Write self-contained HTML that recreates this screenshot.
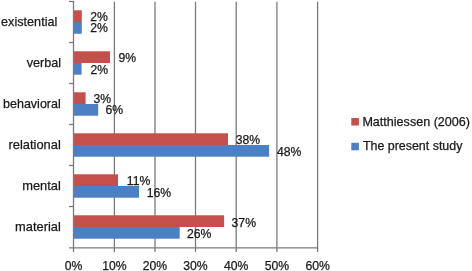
<!DOCTYPE html><html><head><meta charset="utf-8"><style>html,body{margin:0;padding:0;background:#fff;overflow:hidden;}svg{display:block;filter:blur(0.3px);}text{font-family:"Liberation Sans",Arial,sans-serif;fill:#1a1a1a;stroke:#1a1a1a;stroke-width:0.25px;}</style></head><body>
<svg width="472" height="271" viewBox="0 0 472 271">
<rect x="0" y="0" width="472" height="271" fill="#fff"/>
<line x1="114.4" y1="1.7" x2="114.4" y2="252" stroke="#7a7a7a" stroke-width="1.3"/>
<line x1="155.0" y1="1.7" x2="155.0" y2="252" stroke="#7a7a7a" stroke-width="1.3"/>
<line x1="195.5" y1="1.7" x2="195.5" y2="252" stroke="#7a7a7a" stroke-width="1.3"/>
<line x1="236.2" y1="1.7" x2="236.2" y2="252" stroke="#7a7a7a" stroke-width="1.3"/>
<line x1="276.9" y1="1.7" x2="276.9" y2="252" stroke="#7a7a7a" stroke-width="1.3"/>
<line x1="317.6" y1="1.7" x2="317.6" y2="252" stroke="#7a7a7a" stroke-width="1.3"/>
<rect x="74" y="10.29" width="7.80" height="11.71" fill="#C5504B"/>
<rect x="74" y="22.00" width="7.80" height="11.71" fill="#4C80C4"/>
<rect x="74" y="51.29" width="36.00" height="11.71" fill="#C5504B"/>
<rect x="74" y="63.00" width="7.60" height="11.71" fill="#4C80C4"/>
<rect x="74" y="92.29" width="11.60" height="11.71" fill="#C5504B"/>
<rect x="74" y="104.00" width="24.20" height="11.71" fill="#4C80C4"/>
<rect x="74" y="133.29" width="154.00" height="11.71" fill="#C5504B"/>
<rect x="74" y="145.00" width="195.10" height="11.71" fill="#4C80C4"/>
<rect x="74" y="174.29" width="44.00" height="11.71" fill="#C5504B"/>
<rect x="74" y="186.00" width="65.00" height="11.71" fill="#4C80C4"/>
<rect x="74" y="215.29" width="150.10" height="11.71" fill="#C5504B"/>
<rect x="74" y="227.00" width="105.70" height="11.71" fill="#4C80C4"/>
<line x1="73.5" y1="1" x2="73.5" y2="252" stroke="#7a7a7a" stroke-width="1.3"/>
<line x1="69" y1="247.9" x2="318.1" y2="247.9" stroke="#7a7a7a" stroke-width="1.3"/>
<line x1="69" y1="1.50" x2="73.5" y2="1.50" stroke="#7a7a7a" stroke-width="1.3"/>
<line x1="69" y1="42.50" x2="73.5" y2="42.50" stroke="#7a7a7a" stroke-width="1.3"/>
<line x1="69" y1="83.50" x2="73.5" y2="83.50" stroke="#7a7a7a" stroke-width="1.3"/>
<line x1="69" y1="124.50" x2="73.5" y2="124.50" stroke="#7a7a7a" stroke-width="1.3"/>
<line x1="69" y1="165.50" x2="73.5" y2="165.50" stroke="#7a7a7a" stroke-width="1.3"/>
<line x1="69" y1="206.50" x2="73.5" y2="206.50" stroke="#7a7a7a" stroke-width="1.3"/>
<text x="1.10" y="25.90" font-size="12.8" textLength="56.20" lengthAdjust="spacingAndGlyphs">existential</text>
<text x="26.70" y="66.80" font-size="12.8" textLength="34.40" lengthAdjust="spacingAndGlyphs">verbal</text>
<text x="3.00" y="107.80" font-size="12.8" textLength="57.80" lengthAdjust="spacingAndGlyphs">behavioral</text>
<text x="8.50" y="149.30" font-size="12.8" textLength="52.30" lengthAdjust="spacingAndGlyphs">relational</text>
<text x="22.20" y="190.00" font-size="12.8" textLength="38.60" lengthAdjust="spacingAndGlyphs">mental</text>
<text x="15.10" y="231.20" font-size="12.8" textLength="45.70" lengthAdjust="spacingAndGlyphs">material</text>
<text x="90.30" y="21.20" font-size="12.2">2%</text>
<text x="90.30" y="32.00" font-size="12.2">2%</text>
<text x="118.40" y="62.20" font-size="12.2">9%</text>
<text x="90.60" y="73.80" font-size="12.2">2%</text>
<text x="93.40" y="103.10" font-size="12.2">3%</text>
<text x="105.60" y="114.10" font-size="12.2">6%</text>
<text x="235.80" y="144.00" font-size="12.2">38%</text>
<text x="277.00" y="156.20" font-size="12.2">48%</text>
<text x="126.80" y="184.90" font-size="12.2">11%</text>
<text x="146.80" y="197.10" font-size="12.2">16%</text>
<text x="231.60" y="226.50" font-size="12.2">37%</text>
<text x="187.00" y="238.20" font-size="12.2">26%</text>
<text x="73.50" y="269.7" font-size="12.2" text-anchor="middle">0%</text>
<text x="114.40" y="269.7" font-size="12.2" text-anchor="middle">10%</text>
<text x="155.00" y="269.7" font-size="12.2" text-anchor="middle">20%</text>
<text x="195.50" y="269.7" font-size="12.2" text-anchor="middle">30%</text>
<text x="236.20" y="269.7" font-size="12.2" text-anchor="middle">40%</text>
<text x="276.90" y="269.7" font-size="12.2" text-anchor="middle">50%</text>
<text x="317.60" y="269.7" font-size="12.2" text-anchor="middle">60%</text>
<rect x="351.3" y="118" width="7.6" height="7.5" fill="#C5504B"/>
<rect x="351.3" y="142.8" width="7.6" height="7.5" fill="#4C80C4"/>
<text x="362.4" y="125.6" font-size="12.4" textLength="107.6" lengthAdjust="spacingAndGlyphs">Matthiessen (2006)</text>
<text x="362.9" y="150.3" font-size="12.4" textLength="99.5" lengthAdjust="spacingAndGlyphs">The present study</text>
</svg></body></html>
